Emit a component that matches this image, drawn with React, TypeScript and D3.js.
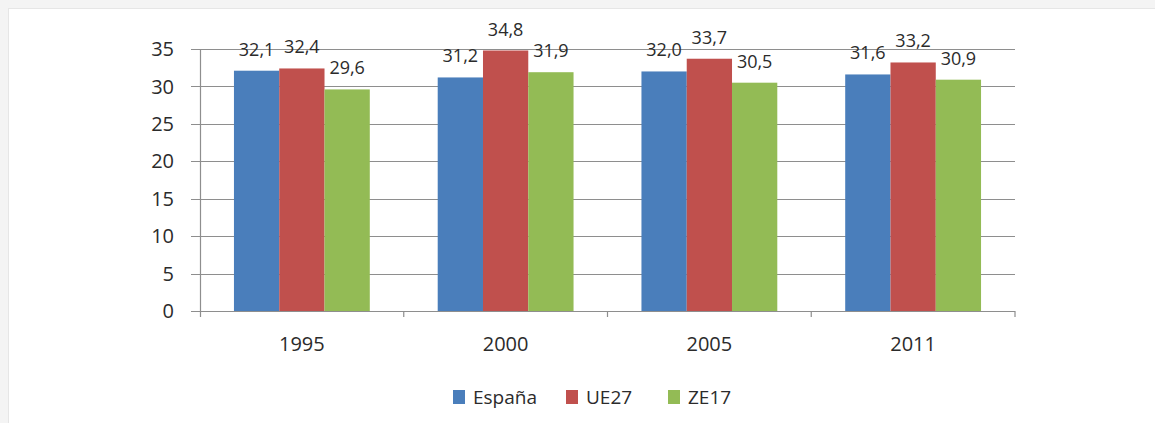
import React, { useEffect, useRef } from 'react';
import * as d3 from 'd3';

const years = ['1995', '2000', '2005', '2011'];
const seriesNames = ['España', 'UE27', 'ZE17'];
const espana = [32.1, 31.2, 32.0, 31.6];
const ue27 = [32.4, 34.8, 33.7, 33.2];
const ze17 = [29.6, 31.9, 30.5, 30.9];
const seriesColors = ['#4a7ebb', '#c0504d', '#93bb55'];
const yTicks = [0, 5, 10, 15, 20, 25, 30, 35];

const W = 1155;
const H = 423;
const FONT = '"Open Sans", Lato, sans-serif';

const App = () => {
  const ref = useRef<SVGSVGElement>(null);

  useEffect(() => {
    const svg = d3.select(ref.current);
    svg.selectAll('*').remove();

    const m = { left: 200, right: 140, top: 49, bottom: 112 };
    const plotW = W - m.left - m.right;
    const plotH = H - m.top - m.bottom;

    // outer panel
    svg.append('rect').attr('width', W).attr('height', H).attr('fill', '#f4f4f4');
    svg.append('rect')
      .attr('x', 8.5).attr('y', 8.5)
      .attr('width', W).attr('height', H)
      .attr('fill', '#ffffff')
      .attr('stroke', '#e6e6e6');

    const g = svg.append('g').attr('transform', `translate(${m.left},${m.top})`);

    const x = d3.scaleBand().domain(years).range([0, plotW]).padding(0);
    const inner = d3.scaleBand().domain(seriesNames).range([0, x.bandwidth()]).paddingInner(0).paddingOuter(0.75);
    const y = d3.scaleLinear().domain([0, 35]).range([plotH, 0]);

    // gridlines
    g.selectAll('.grid')
      .data(yTicks)
      .enter()
      .append('line')
      .attr('x1', -9)
      .attr('x2', plotW)
      .attr('y1', (d) => Math.round(y(d)) + 0.5)
      .attr('y2', (d) => Math.round(y(d)) + 0.5)
      .attr('stroke', '#8e8e8e')
      .attr('stroke-width', 1.2);

    // y axis line
    g.append('line')
      .attr('x1', 0.5).attr('x2', 0.5)
      .attr('y1', 0).attr('y2', plotH + 6)
      .attr('stroke', '#8e8e8e').attr('stroke-width', 1.2);

    // category ticks
    g.selectAll('.ctick')
      .data(years)
      .enter()
      .append('line')
      .attr('x1', (d) => (x(d) || 0) + x.bandwidth())
      .attr('x2', (d) => (x(d) || 0) + x.bandwidth())
      .attr('y1', plotH)
      .attr('y2', plotH + 6)
      .attr('stroke', '#8e8e8e').attr('stroke-width', 1.2);

    // y labels
    g.selectAll('.ylab')
      .data(yTicks)
      .enter()
      .append('text')
      .attr('x', -26)
      .attr('y', (d) => y(d))
      .attr('dy', '0.36em')
      .attr('text-anchor', 'end')
      .attr('font-family', FONT)
      .attr('font-size', 20)
      .attr('fill', '#2b2b2b')
      .text((d) => d);

    // x labels
    g.selectAll('.xlab')
      .data(years)
      .enter()
      .append('text')
      .attr('x', (d) => (x(d) || 0) + x.bandwidth() / 2)
      .attr('y', plotH + 33)
      .attr('dy', '0.36em')
      .attr('text-anchor', 'middle')
      .attr('font-family', FONT)
      .attr('font-size', 20)
      .attr('fill', '#2b2b2b')
      .text((d) => d);

    const allSeries = [espana, ue27, ze17];
    allSeries.forEach((vals, si) => {
      const name = seriesNames[si];
      const sg = g.append('g');
      sg.selectAll('rect')
        .data(vals)
        .enter()
        .append('rect')
        .attr('x', (d, i) => (x(years[i]) || 0) + (inner(name) || 0))
        .attr('width', inner.bandwidth())
        .attr('y', (d) => y(d))
        .attr('height', (d) => plotH - y(d))
        .attr('fill', seriesColors[si]);

      sg.selectAll('text')
        .data(vals)
        .enter()
        .append('text')
        .attr('x', (d, i) => (x(years[i]) || 0) + (inner(name) || 0) + inner.bandwidth() / 2)
        .attr('y', (d) => y(d) - 15)
        .attr('text-anchor', 'middle')
        .attr('font-family', FONT)
        .attr('font-size', 18)
        .attr('fill', '#2b2b2b')
        .text((d) => d.toFixed(1).replace('.', ','));
    });

    // legend
    const legendX = [453, 566, 668];
    const leg = svg.append('g');
    seriesNames.forEach((name, i) => {
      leg.append('rect')
        .attr('x', legendX[i]).attr('y', 390)
        .attr('width', 12).attr('height', 14)
        .attr('fill', seriesColors[i]);
      leg.append('text')
        .attr('x', legendX[i] + 20).attr('y', 397)
        .attr('dy', '0.36em')
        .attr('font-family', FONT)
        .attr('font-size', 19)
        .attr('fill', '#2b2b2b')
        .text(name);
    });
  });

  return (
    <svg
      ref={ref}
      width={W}
      height={H}
      style={{ position: 'absolute', left: 0, top: 0 }}
    />
  );
};

export default App;
